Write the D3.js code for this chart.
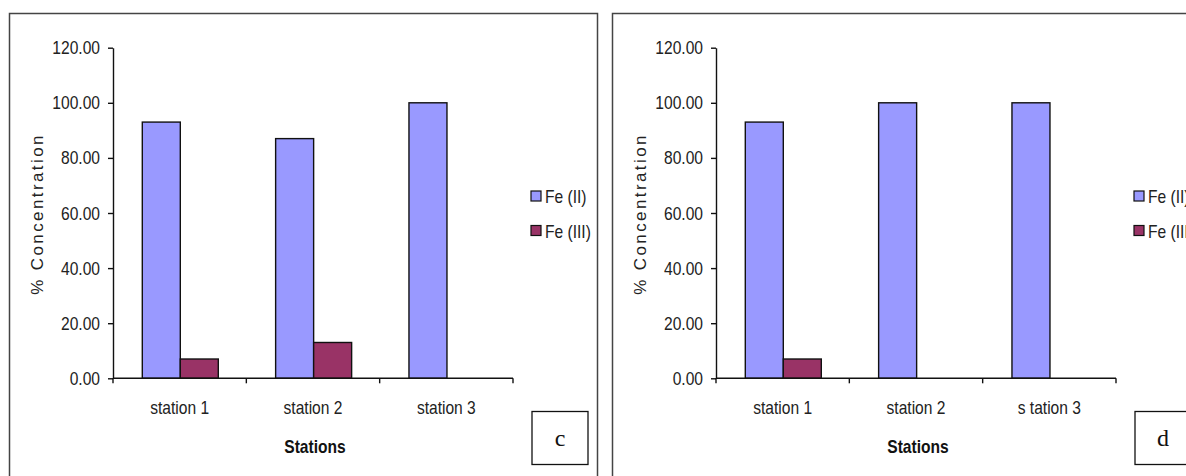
<!DOCTYPE html>
<html>
<head>
<meta charset="utf-8">
<script src="https://cdn.jsdelivr.net/npm/d3@7"></script>
<style>
  body { margin: 0; background: #fff; }
  svg { display: block; }
</style>
</head>
<body>
<svg id="chart" width="1186" height="476"></svg>
<script>
let width = 1186,
  height = 476

// data
let series = ["Fe (II)", "Fe (III)"]
let colors = ["#9999ff", "#993366"]
let yTicks = [0, 20, 40, 60, 80, 100, 120]

let stationsC = ["station 1", "station 2", "station 3"]
let fe2C = [93, 87, 100]
let fe3C = [7, 13, 0]

let stationsD = ["station 1", "station 2", "s tation 3"]
let fe2D = [93, 100, 100]
let fe3D = [7, 0, 0]

let svg = d3.select("#chart")

// Arial-like text squeezed sideways, like the narrow font in the original
function narrow(sel, size, bold) {
  sel.attr("font-family", "Liberation Sans, Arial, sans-serif")
    .attr("font-size", size)
    .attr("font-weight", bold ? "bold" : "normal")
    .each(function () {
      let len = this.getComputedTextLength()
      this.setAttribute("textLength", len * 0.82)
      this.setAttribute("lengthAdjust", "spacingAndGlyphs")
    })
}

function panel(ox, stations, fe2, fe3, letter) {
  let g = svg.append("g").attr("transform", `translate(${ox},0)`)

  // outer frame, runs off the bottom of the picture
  g.append("rect")
    .attr("x", 9.5).attr("y", 13.5)
    .attr("width", 588).attr("height", 520)
    .attr("fill", "none").attr("stroke", "#444").attr("stroke-width", 1.5)

  let x = d3.scaleBand()
    .domain(stations)
    .range([113, 513])
  let xs = d3.scaleBand()
    .domain(series)
    .range([29.3, 105.3])
  let y = d3.scaleLinear()
    .domain([0, 120])
    .range([378.3, 47.7])

  let rows = stations.map((s, i) => ({ station: s, vals: [fe2[i], fe3[i]] }))

  g.selectAll(".grp")
    .data(rows).enter()
    .append("g")
    .attr("transform", d => `translate(${x(d.station)},0)`)
    .selectAll("rect")
    .data(d => d.vals.map((v, j) => ({ v, j })).filter(e => e.v > 0))
    .enter()
    .append("rect")
    .attr("x", d => xs(series[d.j]))
    .attr("width", xs.bandwidth())
    .attr("y", d => y(d.v))
    .attr("height", d => y(0) - y(d.v))
    .attr("fill", d => colors[d.j])
    .attr("stroke", "#111")
    .attr("stroke-width", 1.4)

  // y axis
  let ya = g.append("g")
    .attr("transform", "translate(113,0)")
    .call(d3.axisLeft(y).tickValues(yTicks).tickFormat(d3.format(".2f")).tickSize(5).tickSizeOuter(0).tickPadding(8))
  ya.select(".domain").attr("stroke", "#111").attr("stroke-width", 1.4)
  ya.selectAll(".tick line").attr("stroke", "#111").attr("stroke-width", 1.4)
  ya.selectAll("text").attr("fill", "#222").call(narrow, 19)

  // x axis: ticks sit on category boundaries
  let xa = g.append("g")
    .attr("transform", `translate(0,${y(0)})`)
  xa.append("line")
    .attr("x1", 113).attr("x2", 513)
    .attr("stroke", "#111").attr("stroke-width", 1.4)
  let bounds = stations.map(s => x(s)).concat([x.range()[1]])
  xa.selectAll(".bt")
    .data(bounds).enter()
    .append("line")
    .attr("x1", d => d).attr("x2", d => d)
    .attr("y1", 0).attr("y2", 5)
    .attr("stroke", "#111").attr("stroke-width", 1.4)
  xa.selectAll(".lbl")
    .data(stations).enter()
    .append("text")
    .attr("x", d => x(d) + x.bandwidth() / 2)
    .attr("y", 36)
    .attr("text-anchor", "middle")
    .attr("fill", "#222")
    .text(d => d)
    .call(narrow, 19)

  g.append("text")
    .attr("x", 315).attr("y", 453)
    .attr("text-anchor", "middle")
    .attr("fill", "#111")
    .text("Stations")
    .call(narrow, 19, true)

  g.append("text")
    .attr("transform", "translate(43,214) rotate(-90)")
    .attr("text-anchor", "middle")
    .attr("font-family", "Liberation Sans, Arial, sans-serif")
    .attr("font-size", 17).attr("letter-spacing", 2.4).attr("fill", "#222")
    .text("% Concentration")

  // legend
  let lg = g.selectAll(".leg")
    .data(series).enter()
    .append("g")
    .attr("transform", (d, i) => `translate(531,${191 + i * 34.5})`)
  lg.append("rect")
    .attr("width", 10).attr("height", 10)
    .attr("fill", (d, i) => colors[i])
    .attr("stroke", "#111").attr("stroke-width", 1.2)
  lg.append("text")
    .attr("x", 14).attr("y", 12)
    .attr("fill", "#222")
    .text(d => d)
    .call(narrow, 19)

  // panel letter
  g.append("rect")
    .attr("x", 532).attr("y", 411.5)
    .attr("width", 56).attr("height", 53)
    .attr("fill", "#fff").attr("stroke", "#111").attr("stroke-width", 1.3)
  g.append("text")
    .attr("x", 560).attr("y", 446)
    .attr("text-anchor", "middle")
    .attr("font-family", "Liberation Serif, Times New Roman, serif")
    .attr("font-size", 24).attr("fill", "#111")
    .text(letter)
}

panel(0, stationsC, fe2C, fe3C, "c")
panel(603, stationsD, fe2D, fe3D, "d")
</script>
</body>
</html>
